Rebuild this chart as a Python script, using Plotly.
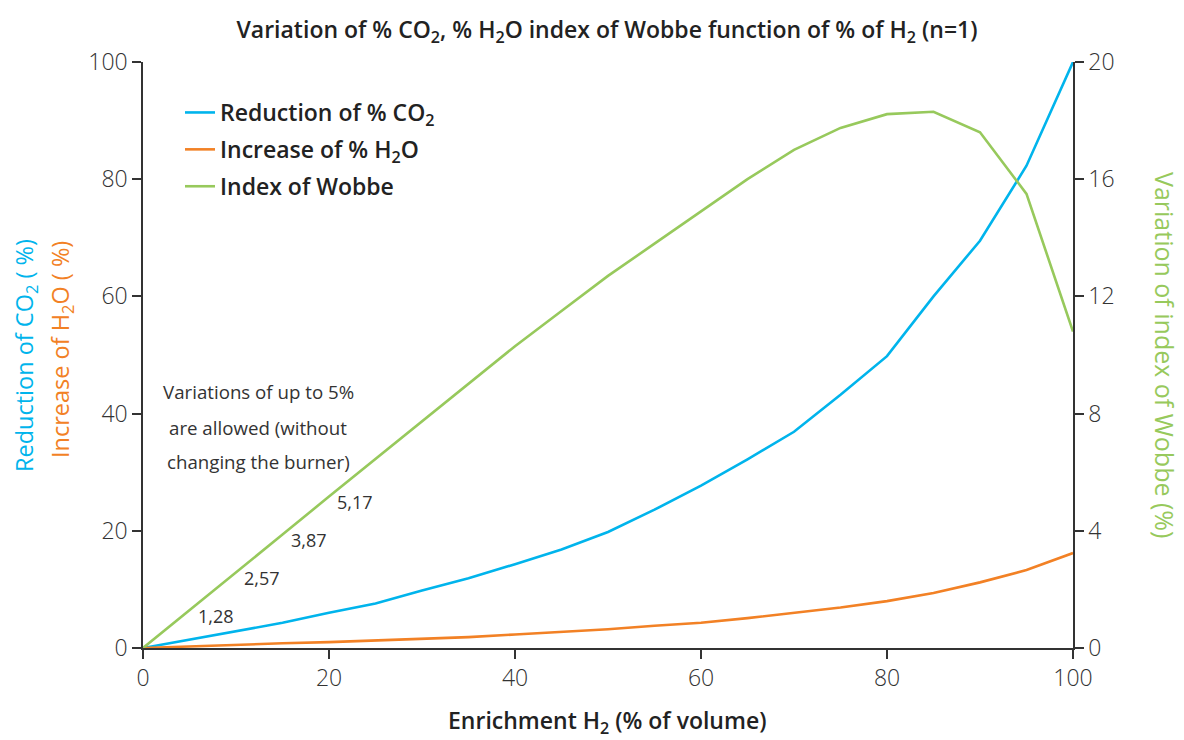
import plotly.graph_objects as go

# ---- data ----
h2_pct = [0, 5, 10, 15, 20, 25, 30, 35, 40, 45, 50, 55, 60, 65, 70, 75, 80, 85, 90, 95, 100]
co2_reduction = [0, 1.4, 2.9, 4.3, 6.0, 7.6, 9.8, 11.9, 14.3, 16.8, 19.8, 23.6, 27.7, 32.2,
                 36.9, 43.2, 49.8, 60.0, 69.5, 82.3, 100]
h2o_increase = [0, 0.3, 0.55, 0.8, 1.0, 1.25, 1.5, 1.85, 2.3, 2.7, 3.2, 3.8, 4.3, 5.1,
                6.0, 6.9, 8.0, 9.4, 11.2, 13.3, 16.2]
wobbe_variation = [0, 1.28, 2.57, 3.87, 5.17, 6.45, 7.75, 9.0, 10.3, 11.5, 12.7, 13.8, 14.9,
                   16.0, 17.0, 17.75, 18.22, 18.3, 17.6, 15.5, 10.8]
label_x = [5, 10, 15, 20]
label_values = [1.28, 2.57, 3.87, 5.17]
label_text = ["1,28", "2,57", "3,87", "5,17"]
note_lines = ["Variations of up to 5%", "are allowed (without", "changing the burner)"]
left_ticks = [0, 20, 40, 60, 80, 100]
right_ticks = [0, 4, 8, 12, 16, 20]
x_ticks = [0, 20, 40, 60, 80, 100]

BLUE = "#00b4ec"
ORANGE = "#f28125"
GREEN = "#97c95c"
DARK = "#333333"
FONT = "Open Sans"

# page body has an 8px margin; layout below is in viewport pixels
PL, PR, PT, PB = 143, 1073, 62, 648
W, H = 1176, 732


def px_x(p):
    return (p - PL) / (PR - PL)


def px_y(p):
    return (PB - p) / (PB - PT)


fig = go.Figure()
fig.add_trace(go.Scatter(x=h2_pct, y=co2_reduction, mode="lines", name="Reduction of % CO<sub>2</sub>",
                         line=dict(color=BLUE, width=2.6), legendgroup="a"))
fig.add_trace(go.Scatter(x=h2_pct, y=h2o_increase, mode="lines", name="Increase of % H<sub>2</sub>O",
                         line=dict(color=ORANGE, width=2.6), legendgroup="b"))
fig.add_trace(go.Scatter(x=h2_pct, y=wobbe_variation, mode="lines", name="Index of Wobbe",
                         line=dict(color=GREEN, width=2.6), yaxis="y2", legendgroup="c"))

annotations = []
for xv, yv, t in zip(label_x, label_values, label_text):
    annotations.append(dict(x=xv, y=yv, xref="x", yref="y2", text=t, showarrow=False,
                            xanchor="center", yanchor="middle",
                            xshift=26, yshift=-5, font=dict(family=FONT, size=18, color=DARK)))

for i, line in enumerate(note_lines):
    annotations.append(dict(x=px_x(258), y=px_y(392 + 35 * i), xref="paper", yref="paper",
                            xanchor="center", yanchor="middle", text=line,
                            showarrow=False, font=dict(family=FONT, size=18.7, color=DARK)))
annotations.append(dict(x=px_x(25), y=px_y(355), xref="paper", yref="paper",
                        xanchor="center", yanchor="middle",
                        text="Reduction of CO<sub>2</sub> ( %)", textangle=-90, showarrow=False,
                        font=dict(family=FONT, size=23.5, color=BLUE)))
annotations.append(dict(x=px_x(61), y=px_y(350), xref="paper", yref="paper",
                        xanchor="center", yanchor="middle",
                        text="Increase of H<sub>2</sub>O ( %)", textangle=-90, showarrow=False,
                        font=dict(family=FONT, size=23.5, color=ORANGE)))
annotations.append(dict(x=px_x(1165), y=px_y(355), xref="paper", yref="paper",
                        xanchor="center", yanchor="middle",
                        text="Variation of index of Wobbe (%)", textangle=90, showarrow=False,
                        font=dict(family=FONT, size=25, color=GREEN)))
annotations.append(dict(x=px_x(607), y=px_y(721), xref="paper", yref="paper",
                        xanchor="center", yanchor="middle",
                        text="Enrichment H<sub>2</sub> (% of volume)", showarrow=False,
                        font=dict(family=FONT, size=23, color="#222222", weight=600)))

axis_common = dict(showgrid=False, zeroline=False, showline=True, linecolor=DARK, linewidth=1.5,
                   ticks="outside", ticklen=9, tickwidth=1.5, tickcolor=DARK, automargin=False,
                   tickfont=dict(family=FONT, size=23, color=DARK, weight=300))

fig.update_layout(
    width=W, height=H,
    margin=dict(l=PL - 8, r=W - (PR - 8), t=PT - 8, b=H - (PB - 8)),
    paper_bgcolor="white", plot_bgcolor="white",
    title=dict(text="Variation of % CO<sub>2</sub>, % H<sub>2</sub>O index of Wobbe function of % of H<sub>2</sub> (n=1)",
               x=px_x(607), xanchor="center", y=1 - 22 / H, yanchor="middle",
               xref="paper",
               font=dict(family=FONT, size=23, color="#222222", weight=600)),
    xaxis=dict(range=[0, 100], tickvals=x_ticks, **axis_common),
    yaxis=dict(range=[0, 100], tickvals=left_ticks, **axis_common),
    yaxis2=dict(range=[0, 20], tickvals=right_ticks, overlaying="y", side="right", **axis_common),
    legend=dict(x=px_x(180), y=px_y(91), xanchor="left", yanchor="top",
                bgcolor="rgba(0,0,0,0)", tracegroupgap=4,
                font=dict(family=FONT, size=23, color="#222222", weight=600)),
    annotations=annotations,
    showlegend=True,
)

fig.write_html("out.html")
